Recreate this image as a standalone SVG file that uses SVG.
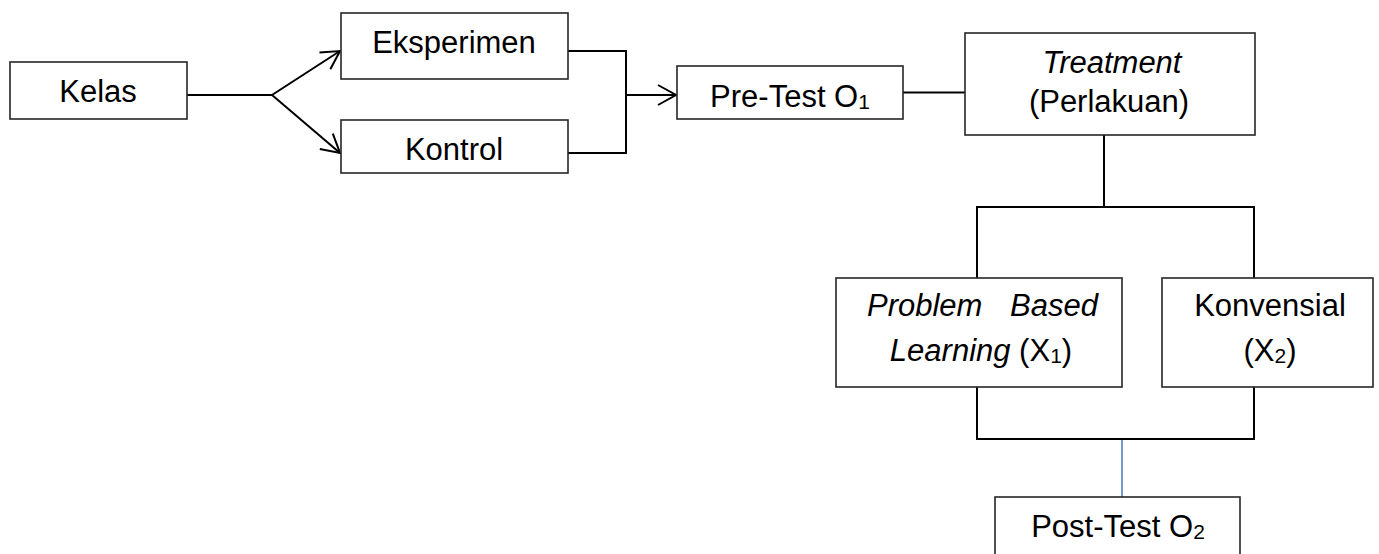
<svg xmlns="http://www.w3.org/2000/svg" width="1379" height="554" viewBox="0 0 1379 554">
<style>
.box{fill:#fff;stroke:#262626;stroke-width:1.6}
.t{font-family:"Liberation Sans",Arial,sans-serif;font-size:31px;fill:#000}
.c{text-anchor:middle}
.i{font-style:italic}
.ln{fill:none;stroke:#000;stroke-width:2}
.blue{fill:none;stroke:#4f81bd;stroke-width:1.6}
</style>
<defs>
<marker id="arr" markerUnits="userSpaceOnUse" markerWidth="24" markerHeight="24" refX="19" refY="11" orient="auto">
<path d="M1,1 L19,11 L1,21" fill="none" stroke="#000" stroke-width="2"/>
</marker>
</defs>
<rect width="1379" height="554" fill="#fff"/>
<g id="connectors">
<path class="ln" d="M187,95 L272,95"/>
<path class="ln" d="M272,95 L340,51" marker-end="url(#arr)"/>
<path class="ln" d="M272,95 L340,153" marker-end="url(#arr)"/>
<path class="ln" d="M568,51 L626,51 L626,153 L568,153"/>
<path class="ln" d="M626,95 L676,95" marker-end="url(#arr)"/>
<path class="ln" d="M903,92.5 L965,92.5"/>
<path class="ln" d="M1104,135 L1104,207"/>
<path class="ln" d="M977,278 L977,207 L1254,207 L1254,278"/>
<path class="ln" d="M977,387 L977,439 L1254,439 L1254,387"/>
<path class="blue" d="M1122,440 L1122,497"/>
</g>
<g id="kelas">
<rect class="box" x="10" y="62" width="177" height="57"/>
<text class="t c" x="98" y="102">Kelas</text>
</g>
<g id="eksperimen">
<rect class="box" x="341" y="13" width="227" height="66"/>
<text class="t c" x="454" y="53">Eksperimen</text>
</g>
<g id="kontrol">
<rect class="box" x="341" y="120" width="227" height="53"/>
<text class="t c" x="454" y="160">Kontrol</text>
</g>
<g id="pretest">
<rect class="box" x="677" y="66" width="226" height="53"/>
<text class="t c" x="790" y="107">Pre-Test O<tspan font-size="21" dy="2">1</tspan></text>
</g>
<g id="treatment">
<rect class="box" x="965" y="33" width="290" height="102"/>
<text class="t c i" x="1112" y="73">Treatment</text>
<text class="t c" x="1109" y="112">(Perlakuan)</text>
</g>
<g id="pbl">
<rect class="box" x="836" y="278" width="286" height="109"/>
<text class="t i" x="867" y="316">Problem</text>
<text class="t i" x="1098" y="316" text-anchor="end">Based</text>
<text class="t c" x="981" y="361"><tspan font-style="italic">Learning</tspan> (X<tspan font-size="21" dy="2">1</tspan><tspan dy="-2">)</tspan></text>
</g>
<g id="konvensial">
<rect class="box" x="1162" y="278" width="211" height="109"/>
<text class="t c" x="1270" y="316">Konvensial</text>
<text class="t c" x="1270" y="361">(X<tspan font-size="21" dy="2">2</tspan><tspan dy="-2">)</tspan></text>
</g>
<g id="posttest">
<rect class="box" x="995" y="497" width="245" height="80"/>
<text class="t c" x="1118" y="537">Post-Test O<tspan font-size="21" dy="2">2</tspan></text>
</g>
</svg>
